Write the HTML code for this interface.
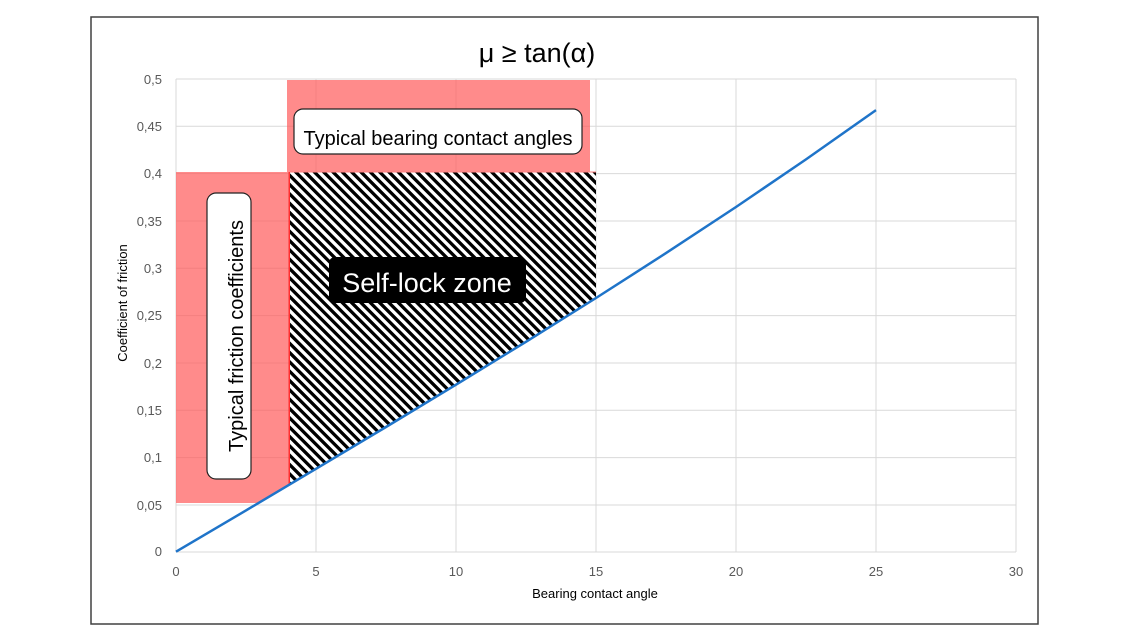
<!DOCTYPE html>
<html><head><meta charset="utf-8"><style>
html,body{margin:0;padding:0;background:#fff;}
svg{display:block;font-family:"Liberation Sans",sans-serif;}
</style></head><body>
<svg width="1140" height="642" viewBox="0 0 1140 642" xmlns="http://www.w3.org/2000/svg">
<defs>
<pattern id="h" patternUnits="userSpaceOnUse" width="6.6" height="6.6" patternTransform="rotate(-45)">
<rect width="6.6" height="6.6" fill="#fff"/>
<rect width="3.3" height="6.6" fill="#000"/>
</pattern>
</defs>
<rect x="91" y="17" width="947" height="607" fill="#fff" stroke="#404040" stroke-width="1.5"/>
<text x="537" y="62" font-size="27" text-anchor="middle" fill="#000">μ ≥ tan(α)</text>
<g stroke="#d9d9d9" stroke-width="1">
<line x1="176" y1="79" x2="176" y2="552"/><line x1="316" y1="79" x2="316" y2="552"/><line x1="456" y1="79" x2="456" y2="552"/><line x1="596" y1="79" x2="596" y2="552"/><line x1="736" y1="79" x2="736" y2="552"/><line x1="876" y1="79" x2="876" y2="552"/><line x1="1016" y1="79" x2="1016" y2="552"/>
<line x1="176" y1="79" x2="1016" y2="79"/><line x1="176" y1="126.3" x2="1016" y2="126.3"/><line x1="176" y1="173.6" x2="1016" y2="173.6"/><line x1="176" y1="221" x2="1016" y2="221"/><line x1="176" y1="268.3" x2="1016" y2="268.3"/><line x1="176" y1="315.6" x2="1016" y2="315.6"/><line x1="176" y1="363" x2="1016" y2="363"/><line x1="176" y1="410.3" x2="1016" y2="410.3"/><line x1="176" y1="457.6" x2="1016" y2="457.6"/><line x1="176" y1="505" x2="1016" y2="505"/><line x1="176" y1="552" x2="1016" y2="552"/>
</g>
<polygon points="176,172 289,172 289,484.8 258.4,503 176,503" fill="#ff5a5a" fill-opacity="0.7"/>
<rect x="287" y="80" width="303" height="92" fill="#ff5a5a" fill-opacity="0.7"/>
<line x1="289.5" y1="172" x2="289.5" y2="484" stroke="#ff3030" stroke-width="2"/>
<polygon points="290,172 596,172 596,298 526,341.8 456,384.7 386,427 316,468.8 290,484.3" fill="url(#h)"/>
<line x1="290" y1="172" x2="596" y2="172" stroke="#ff8080" stroke-width="1"/>
<polyline points="176,551.7 246,510.4 316,468.8 386,427 456,384.7 526,341.8 596,298 666,253.1 736,207 806,159.4 876,110.1" fill="none" stroke="#1f74c9" stroke-width="2.5"/>
<rect x="294" y="109" width="288" height="45" rx="9" fill="#fff" stroke="#222" stroke-width="1.2"/>
<text x="438" y="145" font-size="20" text-anchor="middle" fill="#000">Typical bearing contact angles</text>
<rect x="207" y="193" width="44" height="286" rx="9" fill="#fff" stroke="#222" stroke-width="1.2"/>
<text transform="translate(243,336) rotate(-90)" font-size="20" text-anchor="middle" fill="#000">Typical friction coefficients</text>
<rect x="329" y="257" width="197" height="46" rx="6" fill="#000"/>
<text x="427" y="292" font-size="27" text-anchor="middle" fill="#fff">Self-lock zone</text>
<g font-size="13" fill="#595959" text-anchor="end">
<text x="162" y="84">0,5</text><text x="162" y="131">0,45</text><text x="162" y="178">0,4</text><text x="162" y="226">0,35</text><text x="162" y="273">0,3</text><text x="162" y="320">0,25</text><text x="162" y="368">0,2</text><text x="162" y="415">0,15</text><text x="162" y="462">0,1</text><text x="162" y="510">0,05</text><text x="162" y="556">0</text>
</g>
<g font-size="13" fill="#595959" text-anchor="middle">
<text x="176" y="576">0</text><text x="316" y="576">5</text><text x="456" y="576">10</text><text x="596" y="576">15</text><text x="736" y="576">20</text><text x="876" y="576">25</text><text x="1016" y="576">30</text>
</g>
<text x="595" y="598" font-size="13" text-anchor="middle" fill="#000">Bearing contact angle</text>
<text transform="translate(127,303) rotate(-90)" font-size="13" text-anchor="middle" fill="#000">Coefficient of friction</text>
</svg>
</body></html>
